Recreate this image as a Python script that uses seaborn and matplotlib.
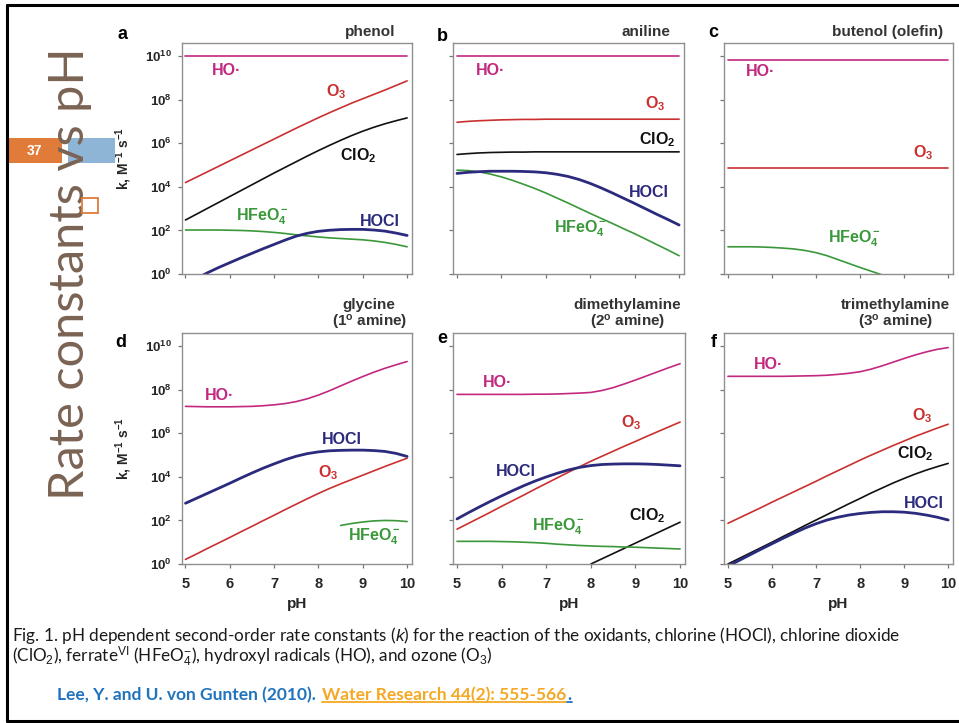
import numpy as np
import pandas as pd
import matplotlib
matplotlib.use("Agg")
import matplotlib.pyplot as plt
import seaborn as sns
from matplotlib.patches import Rectangle
from matplotlib.lines import Line2D

nan = float("nan")

# ---------------- data: log10(k / M^-1 s^-1) read at these pH values ----------------
ph = [5.0, 5.5, 6.0, 6.5, 7.0, 7.5, 8.0, 8.5, 9.0, 9.5, 10.0]
ph_fine = [5.0, 5.25, 5.5, 5.75, 6.0, 6.25, 6.5, 6.75, 7.0, 7.25, 7.5, 7.75,
           8.0, 8.25, 8.5, 8.75, 9.0, 9.25, 9.5, 9.75, 10.0]

# (a) phenol
phenol_HO    = [10.0, 10.0, 10.0, 10.0, 10.0, 10.0, 10.0, 10.0, 10.0, 10.0, 10.0]
phenol_O3    = [4.2, 4.45, 4.7, 4.95, 5.2, 5.45, 5.7, 5.95, 6.2, 6.45, 6.7, 6.94,
                7.18, 7.41, 7.63, 7.85, 8.05, 8.25, 8.45, 8.66, 8.87]
phenol_ClO2  = [2.48, 2.75, 3.02, 3.29, 3.56, 3.83, 4.1, 4.37, 4.64, 4.9, 5.16, 5.42,
                5.67, 5.91, 6.14, 6.36, 6.56, 6.74, 6.9, 7.04, 7.17]
phenol_HFeO4 = [2.02, 2.02, 2.02, 2.02, 2.01, 2.0, 1.98, 1.95, 1.91, 1.86, 1.8, 1.75,
                1.7, 1.66, 1.63, 1.6, 1.57, 1.52, 1.45, 1.36, 1.25]
phenol_HOCl  = [-0.5, -0.2, 0.06, 0.3, 0.52, 0.74, 0.95, 1.16, 1.36, 1.56, 1.74, 1.87,
                1.96, 2.01, 2.04, 2.05, 2.05, 2.02, 1.97, 1.88, 1.77]

# (b) aniline
aniline_HO    = [10.0, 10.0, 10.0, 10.0, 10.0, 10.0, 10.0, 10.0, 10.0, 10.0, 10.0]
aniline_O3    = [6.97, 7.01, 7.04, 7.06, 7.08, 7.09, 7.1, 7.1, 7.11, 7.11, 7.11, 7.11,
                 7.11, 7.11, 7.11, 7.11, 7.11, 7.11, 7.11, 7.11, 7.11]
aniline_ClO2  = [5.49, 5.53, 5.56, 5.58, 5.59, 5.6, 5.6, 5.61, 5.61, 5.61, 5.61, 5.61,
                 5.61, 5.61, 5.61, 5.61, 5.61, 5.61, 5.61, 5.61, 5.61]
aniline_HFeO4 = [4.77, 4.75, 4.69, 4.59, 4.46, 4.3, 4.12, 3.93, 3.72, 3.49, 3.26, 3.02,
                 2.78, 2.55, 2.32, 2.08, 1.85, 1.6, 1.35, 1.1, 0.84]
aniline_HOCl  = [4.62, 4.67, 4.7, 4.72, 4.72, 4.72, 4.71, 4.69, 4.65, 4.58, 4.48, 4.34,
                 4.16, 3.95, 3.72, 3.48, 3.24, 2.99, 2.74, 2.5, 2.25]

# (c) butenol (olefin)
butenol_HO    = [9.82, 9.82, 9.82, 9.82, 9.82, 9.82, 9.82, 9.82, 9.82, 9.82, 9.82]
butenol_O3    = [4.88, 4.88, 4.88, 4.88, 4.88, 4.88, 4.88, 4.88, 4.88, 4.88, 4.88]
butenol_HFeO4 = [1.25, 1.25, 1.25, 1.24, 1.22, 1.19, 1.15, 1.08, 0.98, 0.84, 0.66, 0.48,
                 0.3, 0.13, -0.04, nan, nan, nan, nan, nan, nan]

# (d) glycine
glycine_HO    = [7.24, 7.23, 7.22, 7.22, 7.22, 7.23, 7.24, 7.27, 7.31, 7.37, 7.46, 7.59,
                 7.76, 7.96, 8.18, 8.4, 8.61, 8.81, 8.99, 9.15, 9.3]
glycine_O3    = [0.21, 0.46, 0.72, 0.97, 1.22, 1.48, 1.73, 1.99, 2.24, 2.5, 2.75, 3.0,
                 3.24, 3.47, 3.68, 3.88, 4.08, 4.28, 4.48, 4.67, 4.86]
glycine_HFeO4 = [nan, nan, nan, nan, nan, nan, nan, nan, nan, nan, nan, nan,
                 nan, nan, 1.77, 1.86, 1.93, 1.98, 2.0, 1.99, 1.95]
glycine_HOCl  = [2.79, 3.02, 3.25, 3.48, 3.71, 3.95, 4.18, 4.4, 4.6, 4.79, 4.95, 5.07,
                 5.15, 5.2, 5.22, 5.23, 5.23, 5.21, 5.17, 5.08, 4.94]

# (e) dimethylamine
dma_HO    = [7.79, 7.79, 7.79, 7.79, 7.79, 7.79, 7.79, 7.8, 7.8, 7.81, 7.83, 7.85,
             7.88, 7.97, 8.1, 8.27, 8.45, 8.64, 8.83, 9.02, 9.2]
dma_O3    = [1.6, 1.86, 2.12, 2.38, 2.65, 2.91, 3.17, 3.44, 3.7, 3.96, 4.22, 4.47,
             4.72, 4.95, 5.18, 5.41, 5.63, 5.86, 6.08, 6.3, 6.52]
dma_ClO2  = [nan, nan, nan, nan, nan, nan, 0.0, 0.48, 0.96, 1.44, 1.92]
dma_HFeO4 = [1.04, 1.04, 1.04, 1.04, 1.03, 1.02, 1.0, 0.98, 0.95, 0.91, 0.88, 0.85,
             0.83, 0.81, 0.8, 0.78, 0.77, 0.75, 0.73, 0.71, 0.69]
dma_HOCl  = [2.07, 2.35, 2.62, 2.88, 3.13, 3.37, 3.6, 3.81, 4.0, 4.17, 4.32, 4.44,
             4.52, 4.57, 4.59, 4.6, 4.6, 4.59, 4.57, 4.54, 4.51]

# (f) trimethylamine
tma_HO    = [8.62, 8.62, 8.62, 8.62, 8.62, 8.62, 8.63, 8.64, 8.65, 8.67, 8.71, 8.76,
             8.83, 8.95, 9.1, 9.27, 9.44, 9.6, 9.74, 9.86, 9.94]
tma_O3    = [1.87, 2.11, 2.35, 2.59, 2.84, 3.08, 3.32, 3.56, 3.8, 4.05, 4.29, 4.53,
             4.77, 5.0, 5.22, 5.44, 5.65, 5.86, 6.05, 6.24, 6.42]
tma_ClO2  = [0.0, 0.25, 0.5, 0.75, 1.0, 1.26, 1.51, 1.77, 2.02, 2.27, 2.52, 2.77,
             3.01, 3.26, 3.49, 3.72, 3.93, 4.13, 4.31, 4.47, 4.62]
tma_HOCl  = [-0.1, 0.16, 0.42, 0.68, 0.93, 1.18, 1.42, 1.65, 1.85, 2.02, 2.15, 2.25,
             2.32, 2.37, 2.4, 2.4, 2.38, 2.33, 2.25, 2.15, 2.02]

panel_letters = ["a", "b", "c", "d", "e", "f"]
panel_titles = ["phenol", "aniline", "butenol (olefin)",
                "glycine\n(1$^o$ amine)", "dimethylamine\n(2$^o$ amine)",
                "trimethylamine\n(3$^o$ amine)"]
ytick_exponents = [0, 2, 4, 6, 8, 10]
xtick_values = [5, 6, 7, 8, 9, 10]

# curve label anchors (pH, log10 k)
labels_a = [("HO", 5.6, 9.36), ("O3", 8.17, 8.36), ("ClO2", 8.48, 5.43), ("HFeO4", 6.14, 2.63), ("HOCl", 8.93, 2.4)]
labels_b = [("HO", 5.42, 9.33), ("O3", 9.23, 7.83), ("ClO2", 9.09, 6.18), ("HOCl", 8.87, 3.73), ("HFeO4", 7.18, 2.1)]
labels_c = [("HO", 5.4, 9.28), ("O3", 9.21, 5.58), ("HFeO4", 7.28, 1.64)]
labels_d = [("HO", 5.44, 7.73), ("HOCl", 8.07, 5.7), ("O3", 7.99, 4.2), ("HFeO4", 8.67, 1.26)]
labels_e = [("HO", 5.59, 8.34), ("O3", 8.67, 6.47), ("HOCl", 5.88, 4.25), ("ClO2", 8.85, 2.21), ("HFeO4", 6.68, 1.69)]
labels_f = [("HO", 5.58, 9.17), ("O3", 9.17, 6.83), ("ClO2", 8.84, 5.05), ("HOCl", 8.99, 2.78)]

# ---------------- styling ----------------
sns.set_style("ticks")
plt.rcParams["font.family"] = ["Liberation Sans", "DejaVu Sans"]
plt.rcParams["mathtext.fontset"] = "custom"
plt.rcParams["mathtext.rm"] = "Liberation Sans"
plt.rcParams["mathtext.it"] = "Liberation Sans:italic"
plt.rcParams["mathtext.bf"] = "Liberation Sans:bold"
plt.rcParams["mathtext.default"] = "bf"

colors = {"HO": "#c2287f", "O3": "#c9302f", "ClO2": "#111111", "HFeO4": "#3a983a", "HOCl": "#2b2a7c"}
widths = {"HO": 1.2, "O3": 1.2, "ClO2": 1.2, "HFeO4": 1.2, "HOCl": 2.0}
label_text = {"HO": "HO\u00b7", "O3": "O$_3$", "ClO2": "ClO$_2$", "HFeO4": "HFeO$_4^-$", "HOCl": "HOCl"}

panels = [
    {"HO": phenol_HO, "O3": phenol_O3, "ClO2": phenol_ClO2, "HFeO4": phenol_HFeO4, "HOCl": phenol_HOCl},
    {"HO": aniline_HO, "O3": aniline_O3, "ClO2": aniline_ClO2, "HFeO4": aniline_HFeO4, "HOCl": aniline_HOCl},
    {"HO": butenol_HO, "O3": butenol_O3, "HFeO4": butenol_HFeO4},
    {"HO": glycine_HO, "O3": glycine_O3, "HFeO4": glycine_HFeO4, "HOCl": glycine_HOCl},
    {"HO": dma_HO, "O3": dma_O3, "ClO2": dma_ClO2, "HFeO4": dma_HFeO4, "HOCl": dma_HOCl},
    {"HO": tma_HO, "O3": tma_O3, "ClO2": tma_ClO2, "HOCl": tma_HOCl},
]
panel_labels = [labels_a, labels_b, labels_c, labels_d, labels_e, labels_f]

W, H = 959, 723
fig = plt.figure(figsize=(W / 100, H / 100), dpi=100)
fig.patch.set_facecolor("white")


def fx(x):
    return x / W


def fy(y):
    return 1 - y / H


boxes = [(181.5, 43, 412, 274), (453, 43, 684, 274), (724, 43, 953, 274),
         (181.5, 333, 412, 564), (453, 333, 685, 564), (724, 333, 953, 564)]
title_x = [0.93, 0.94, 0.956, 0.978, 0.983, 0.987]
title_y = [1.017, 1.017, 1.017, 1.004, 1.004, 1.004]
letter_pos = [(122, 39), (442, 41), (713, 37), (121, 347), (442, 343), (714, 347)]

for i, (l, t, r, b) in enumerate(boxes):
    ax = fig.add_axes([fx(l), fy(b), (r - l) / W, (b - t) / H])
    ax.set_yscale("log")
    for name, vals in panels[i].items():
        grid = ph if len(vals) == len(ph) else ph_fine
        df = pd.DataFrame({"pH": grid, "k": 10.0 ** np.array(vals, dtype=float)}).dropna()
        sns.lineplot(data=df, x="pH", y="k", color=colors[name], linewidth=widths[name],
                     ax=ax, estimator=None, sort=False, legend=False)
    ax.set_xlim(4.91, 10.11)
    ax.set_ylim(1, 10 ** 10.61)
    ax.set_yticks([10.0 ** e for e in ytick_exponents])
    ax.set_yticklabels(["$10^{%d}$" % e for e in ytick_exponents])
    ax.yaxis.set_minor_locator(matplotlib.ticker.NullLocator())
    ax.set_xticks(xtick_values)
    ax.set_xticklabels([str(v) for v in xtick_values])
    for s in ax.spines.values():
        s.set_visible(True)
        s.set_color("#8f8f8f")
        s.set_linewidth(1.0)
    ax.tick_params(axis="both", direction="out", length=3, width=0.9, color="#777777")
    ax.tick_params(axis="y", labelsize=9.5, pad=4)
    ax.tick_params(axis="x", labelsize=10.5, pad=6.5)
    for tl in ax.get_xticklabels() + ax.get_yticklabels():
        tl.set_fontweight("bold")
    ax.set_xlabel("")
    ax.set_ylabel("")
    if i in (0, 3):
        ax.set_ylabel("k, M$^{-1}$ s$^{-1}$", fontsize=10, fontweight="bold")
        ax.yaxis.set_label_coords(-0.205, 0.5)
    else:
        ax.tick_params(axis="y", labelleft=False)
    if i < 3:
        ax.tick_params(axis="x", labelbottom=False)
    else:
        ax.set_xlabel("pH", fontsize=11, fontweight="bold", labelpad=4)
    for name, px, py in panel_labels[i]:
        ax.text(px, 10.0 ** py, label_text[name], color=colors[name], fontsize=11.5,
                fontweight="bold", ha="left", va="center")
    ax.text(title_x[i], title_y[i], panel_titles[i], transform=ax.transAxes, ha="right",
            va="bottom", multialignment="center", fontsize=11, fontweight="bold",
            color="#333333", linespacing=1.05)
    lx, ly = letter_pos[i]
    fig.text(fx(lx), fy(ly), panel_letters[i], ha="center", va="baseline",
             fontsize=13, fontweight="bold", color="black")

# ---------------- slide decorations ----------------
fig.add_artist(Rectangle((fx(8), fy(163)), (62 - 8) / W, 25 / H, transform=fig.transFigure,
                         facecolor="#e07b39", edgecolor="none", zorder=1))
fig.add_artist(Rectangle((fx(68), fy(163)), (115 - 68) / W, 25 / H, transform=fig.transFigure,
                         facecolor="#8fb5d6", edgecolor="none", zorder=1))
fig.text(fx(34), fy(151), "37", color="white", fontsize=10, fontweight="bold",
         ha="center", va="center", zorder=2)

fig.canvas.draw()
rend = fig.canvas.get_renderer()

title_txt = fig.text(fx(84), fy(500), "Rate constants vs pH", rotation=90, rotation_mode="anchor",
                     ha="left", va="baseline", fontsize=35, color="#7b6354",
                     family=["Lato", "DejaVu Sans"], zorder=3)
ext = title_txt.get_window_extent(rend)
title_txt.set_fontsize(35 * 453.0 / ext.height)

fig.add_artist(Rectangle((fx(82), fy(213)), 16 / W, 15 / H, transform=fig.transFigure,
                         facecolor="white", edgecolor="#e07b39", linewidth=1.3, zorder=4))

# slide border
for xs, ys in [((7, 7), (5, 721)), ((7, 959), (5, 5)), ((7, 959), (721, 721))]:
    fig.add_artist(Line2D([fx(xs[0]), fx(xs[1])], [fy(ys[0]), fy(ys[1])],
                          transform=fig.transFigure, color="black", linewidth=2.2, zorder=5))

# caption
cap_family = ["Liberation Sans Narrow", "Lato", "DejaVu Sans"]
line1 = ("Fig. 1. pH dependent second-order rate constants ($\\mathit{k}$) for the reaction of the "
         "oxidants, chlorine (HOCl), chlorine dioxide")
line2 = ("(ClO$_\\mathrm{2}$), ferrate$^\\mathrm{VI}$ (HFeO$_\\mathrm{4}^\\mathrm{-}$), hydroxyl radicals (HO), "
         "and ozone (O$_\\mathrm{3}$)")
c1 = fig.text(fx(12), fy(641), line1, ha="left", va="baseline", fontsize=13,
              family=cap_family, color="#1a1a1a")
e1 = c1.get_window_extent(rend)
cap_size = min(13.5, 13 * 885.0 / e1.width)
c1.set_fontsize(cap_size)
fig.text(fx(12), fy(662), line2, ha="left", va="baseline", fontsize=cap_size,
         family=cap_family, color="#1a1a1a")

# citation
cite_parts = [("Lee, Y. and U. von Gunten (2010). ", "#1f74bd"),
              ("Water Research 44(2): 555-566", "#f5a823"),
              (".", "#1f74bd")]
cite_family = ["Lato", "DejaVu Sans"]
probe = [fig.text(0, 0, s, fontsize=12, fontweight="bold", family=cite_family) for s, _ in cite_parts]
tot = sum(p.get_window_extent(rend).width for p in probe) + 2
for p in probe:
    p.remove()
cite_size = 12 * 510.0 / tot
x = 57.0
for j, (s, col) in enumerate(cite_parts):
    t = fig.text(fx(x), fy(700), s, fontsize=cite_size, fontweight="bold", family=cite_family,
                 color=col, ha="left", va="baseline")
    e = t.get_window_extent(rend)
    if j > 0:
        fig.add_artist(Line2D([fx(e.x0), fx(e.x1)], [fy(701.5), fy(701.5)],
                              transform=fig.transFigure, color=col, linewidth=1.3))
    x = e.x1 + (2 if j == 0 else 1)

fig.savefig("out.png", dpi=100, facecolor="white")
